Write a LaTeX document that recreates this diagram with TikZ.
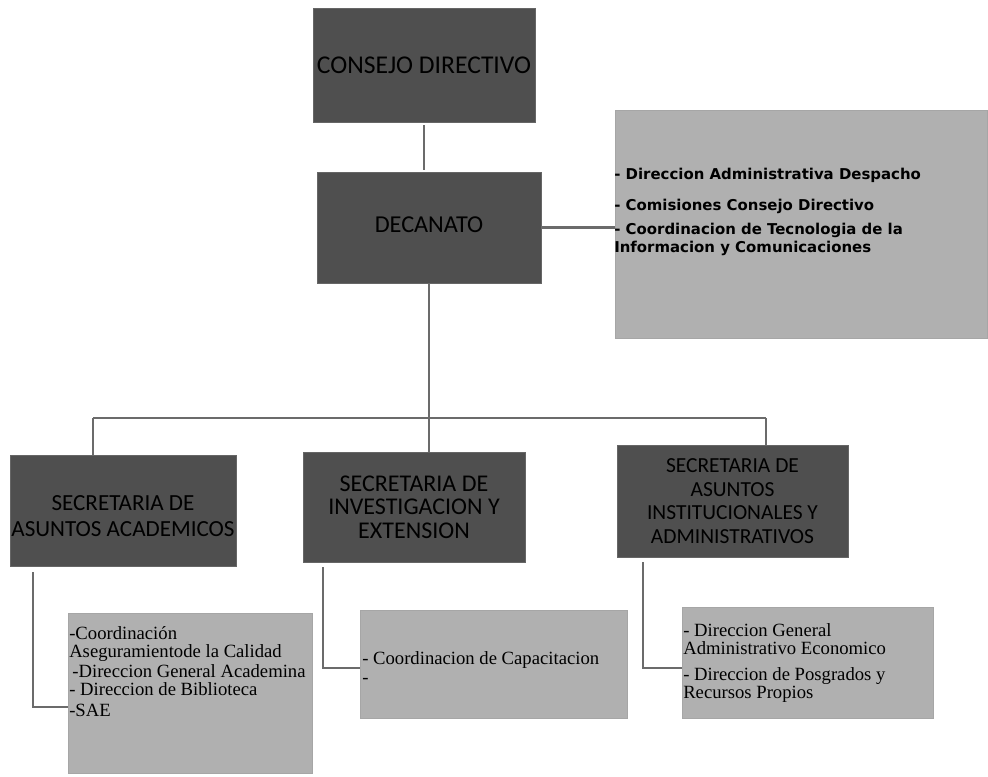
\documentclass[tikz,border=0pt]{standalone}
\usepackage{fontspec}
\setmainfont{Liberation Serif}
\newfontfamily\boxfont{Carlito}
\newfontfamily\infofont{DejaVu Sans}
\begin{document}
\begin{tikzpicture}[x=0.75pt,y=-0.75pt,
  darkbox/.style={draw=black!60,line width=0.6pt,fill=black!69,rectangle,inner sep=0pt,
    align=center,text=black},
  lightbox/.style={draw=black!35,line width=0.4pt,fill=black!31,rectangle,inner sep=0pt},
  infotext/.style={anchor=north west,inner sep=0pt,align=left,font=\infofont\bfseries\fontsize{11.2}{13.5}\selectfont},
  subtext/.style={anchor=north west,inner sep=0pt,align=left,font=\fontsize{14}{13.5}\selectfont},
  conn/.style={draw=black!58,line width=1.6pt}]
\useasboundingbox (0,0) rectangle (988,776);
\fill[white] (0,0) rectangle (988,776);

% dark boxes
\node[darkbox,minimum width=166.5pt,minimum height=85.5pt,font=\boxfont\fontsize{19.2}{22}\selectfont] (consejo) at (424,65) {CONSEJO DIRECTIVO};
\node[darkbox,minimum width=168pt,minimum height=83.25pt,text depth=5pt,font=\boxfont\fontsize{18.2}{22}\selectfont] (decanato) at (429,227.5) {DECANATO};
\node[darkbox,minimum width=169.5pt,minimum height=83.25pt,font=\boxfont\fontsize{17.3}{19.5}\selectfont] (saa) at (123,510.5) {\rule{0pt}{20pt}SECRETARIA DE\\ASUNTOS ACADEMICOS};
\node[darkbox,minimum width=166.5pt,minimum height=82.5pt,font=\boxfont\fontsize{18}{17.6}\selectfont] (sie) at (414,507) {SECRETARIA DE\\INVESTIGACION Y\\EXTENSION};
\node[darkbox,minimum width=173.25pt,minimum height=84pt,font=\boxfont\fontsize{16.1}{17.6}\selectfont] (saia) at (732.5,501) {SECRETARIA DE\\ASUNTOS\\INSTITUCIONALES Y\\ADMINISTRATIVOS};

% light boxes
\node[lightbox,minimum width=279pt,minimum height=171pt] (info) at (801,224) {};
\node[lightbox,minimum width=183pt,minimum height=120pt] (sub1) at (190,693) {};
\node[lightbox,minimum width=200.25pt,minimum height=81pt] (sub2) at (493.5,664) {};
\node[lightbox,minimum width=188.25pt,minimum height=83.25pt] (sub3) at (807.5,662.5) {};

% texts in light boxes
\node[infotext] (infot) at (614,168) {- Direccion Administrativa Despacho\\[9.75pt]- Comisiones Consejo Directivo\\[4.5pt]- Coordinacion de Tecnologia de la\\Informacion y Comunicaciones};
\node[subtext] (sub1t) at (69,626) {-Coordinación\\Aseguramientode la Calidad\\[2pt]\,-Direccion General Academina\\- Direccion de Biblioteca\\[2pt]-SAE};
\node[subtext] (sub2t) at (362,651) {- Coordinacion de Capacitacion\\[1pt]-};
\node[subtext] (sub3t) at (683,623) {- Direccion General\\Administrativo Economico\\[6.5pt]- Direccion de Posgrados y\\Recursos Propios};

% connectors
\draw[conn,shorten <=2.25pt,shorten >=1.5pt] (consejo.south) -- (consejo.south |- decanato.north);
\draw[conn] (decanato.east) -- (decanato.east -| info.west);
\coordinate (busL) at (93,418);
\coordinate (busR) at (766,418);
\draw[conn] (busL) -- (busR);
\draw[conn] (busL) -- (busL |- saa.north);
\draw[conn] (decanato.south) -- (decanato.south |- sie.north);
\draw[conn] (busR) -- (busR |- saia.north);
\coordinate (k1) at (33,572);
\coordinate (k1b) at (33,707);
\draw[conn] (k1) -- (k1b) -- (k1b -| sub1.west);
\coordinate (k2) at (323,567);
\coordinate (k2b) at (323,668);
\draw[conn] (k2) -- (k2b) -- (k2b -| sub2.west);
\coordinate (k3) at (643,562);
\coordinate (k3b) at (643,668);
\draw[conn] (k3) -- (k3b) -- (k3b -| sub3.west);
\end{tikzpicture}
\end{document}
